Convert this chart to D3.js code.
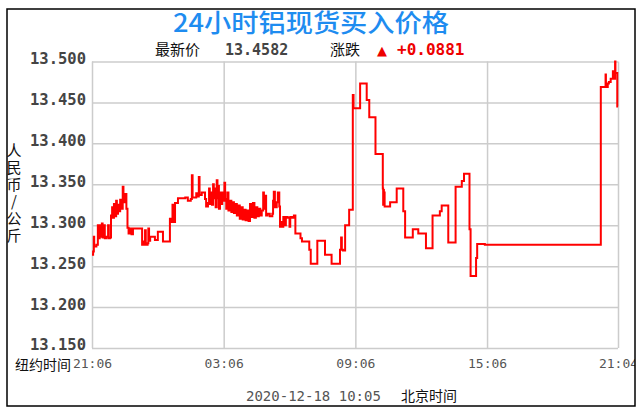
<!DOCTYPE html>
<html>
<head>
<meta charset="utf-8">
<script src="https://cdn.jsdelivr.net/npm/d3@7"></script>
<style>
  html, body { margin: 0; padding: 0; background: #fff; }
  svg { display: block; }
</style>
</head>
<body>
<div id="chart"></div>
<script>
// 数据: 分钟偏移 (从 21:06 起) 与 价格
const minutes = [
  0, 3, 5, 6, 12, 16, 18, 21, 23, 27, 29, 33, 35, 40, 44, 46, 49, 52, 55, 57,
  60, 63, 66, 68, 71, 74, 77, 80, 84, 86, 89, 91, 94, 97, 100, 104, 108, 112, 137, 142,
  145, 147, 152, 154, 156, 159, 172, 180, 194, 213, 217, 220, 222, 227, 235, 255, 262, 270, 273, 275,
  285, 290, 292, 294, 300, 309, 312, 317, 320, 322, 326, 328, 331, 333, 336, 338, 341, 343, 345, 347,
  350, 352, 356, 359, 362, 364, 367, 370, 373, 377, 381, 384, 388, 392, 396, 400, 404, 408, 412, 416,
  420, 424, 428, 432, 436, 440, 444, 448, 452, 456, 460, 464, 468, 470, 473, 476, 480, 486, 493, 495,
  497, 500, 505, 508, 512, 514, 517, 520, 523, 527, 530, 535, 540, 542, 547, 552, 556, 570, 574, 594,
  598, 616, 637, 655, 678, 681, 683, 686, 692, 703, 713, 715, 733, 751, 758, 775, 795, 796, 797, 798,
  799, 800, 815, 833, 851, 856, 877, 892, 913, 931, 951, 956, 974, 994, 1011, 1017, 1032, 1035, 1050, 1053,
  1074, 1391, 1404, 1405, 1410, 1413, 1418, 1424, 1426, 1430, 1431, 1436, 1438
];
const prices = [
  13.264, 13.268, 13.286, 13.274, 13.276, 13.300, 13.284, 13.300, 13.286, 13.302, 13.285, 13.300, 13.284, 13.286, 13.300, 13.284, 13.285, 13.312, 13.322, 13.309,
  13.326, 13.311, 13.330, 13.314, 13.325, 13.317, 13.331, 13.320, 13.347, 13.335, 13.328, 13.338, 13.320, 13.297, 13.290, 13.296, 13.289, 13.296, 13.276, 13.280,
  13.294, 13.276, 13.278, 13.296, 13.281, 13.286, 13.282, 13.292, 13.280, 13.308, 13.304, 13.325, 13.304, 13.327, 13.333, 13.334, 13.330, 13.332, 13.361, 13.334,
  13.339, 13.335, 13.359, 13.337, 13.340, 13.332, 13.323, 13.327, 13.345, 13.326, 13.340, 13.325, 13.350, 13.333, 13.345, 13.322, 13.355, 13.333, 13.348, 13.320,
  13.340, 13.326, 13.340, 13.330, 13.352, 13.332, 13.320, 13.340, 13.318, 13.330, 13.316, 13.328, 13.315, 13.326, 13.312, 13.324, 13.308, 13.322, 13.307, 13.319,
  13.306, 13.318, 13.305, 13.326, 13.310, 13.327, 13.309, 13.322, 13.311, 13.320, 13.312, 13.318, 13.340, 13.320, 13.336, 13.312, 13.314, 13.311, 13.314, 13.330,
  13.341, 13.322, 13.328, 13.340, 13.323, 13.298, 13.304, 13.298, 13.310, 13.300, 13.310, 13.309, 13.298, 13.310, 13.309, 13.312, 13.290, 13.284, 13.280, 13.270,
  13.253, 13.281, 13.264, 13.253, 13.270, 13.285, 13.270, 13.269, 13.300, 13.319, 13.459, 13.443, 13.473, 13.453, 13.432, 13.387, 13.345, 13.325, 13.343, 13.325,
  13.340, 13.323, 13.328, 13.345, 13.317, 13.285, 13.295, 13.290, 13.272, 13.312, 13.317, 13.324, 13.279, 13.347, 13.354, 13.363, 13.295, 13.238, 13.260, 13.277,
  13.276, 13.469, 13.484, 13.469, 13.473, 13.475, 13.479, 13.488, 13.479, 13.500, 13.486, 13.445, 13.445
];

const yTicks = [13.150, 13.200, 13.250, 13.300, 13.350, 13.400, 13.450, 13.500];
const xTicks = [0, 360, 720, 1080, 1438];
const xTickLabels = ['21:06', '03:06', '09:06', '15:06', '21:04'];

const width = 639, height = 412;
const margin = {top: 61.5, right: 21, bottom: 64, left: 92};

const svg = d3.select('#chart').append('svg')
  .attr('width', width)
  .attr('height', height);

svg.append('clipPath').attr('id', 'frame')
  .append('rect').attr('x', 7).attr('y', 9).attr('width', 628).attr('height', 397);

const g = svg.append('g').attr('clip-path', 'url(#frame)');

const x = d3.scaleLinear().domain([0, 1438]).range([margin.left, width - margin.right]);
const y = d3.scaleLinear().domain([13.15, 13.5]).range([height - margin.bottom, margin.top]);

// 网格
const gridColor = '#cccccc';
g.append('g')
  .attr('transform', `translate(${margin.left},0)`)
  .call(d3.axisLeft(y).tickValues(yTicks).tickSize(-(x.range()[1] - margin.left)).tickFormat(''))
  .call(a => a.select('.domain').remove())
  .selectAll('line').attr('stroke', gridColor).attr('stroke-width', 1.5);

g.append('g')
  .attr('transform', `translate(0,${margin.top})`)
  .call(d3.axisTop(x).tickValues(xTicks).tickSize(-(y.range()[0] - margin.top)).tickFormat(''))
  .call(a => a.select('.domain').remove())
  .selectAll('line').attr('stroke', gridColor).attr('stroke-width', 1.5);

// 价格线
const data = minutes.map((m, i) => ({m, p: prices[i]}));
g.append('path')
  .datum(data)
  .attr('fill', 'none')
  .attr('stroke', '#ff0000')
  .attr('stroke-width', 2)
  .attr('d', d3.line().curve(d3.curveStepAfter).x(d => x(d.m)).y(d => y(d.p)));

// Y 轴标签
const yAxis = g.append('g')
  .attr('transform', `translate(${margin.left},-3)`)
  .call(d3.axisLeft(y).tickValues(yTicks).tickSize(0).tickPadding(6).tickFormat(d3.format('.3f')));
yAxis.select('.domain').remove();
yAxis.selectAll('text')
  .attr('fill', '#444')
  .style('font-family', '"DejaVu Sans Mono", monospace')
  .style('font-weight', 'bold')
  .style('font-size', '15.5px');

// X 轴标签
const xAxis = g.append('g')
  .attr('transform', `translate(0,${y.range()[0]})`)
  .call(d3.axisBottom(x).tickValues(xTicks).tickSize(0).tickPadding(11).tickFormat((d, i) => xTickLabels[i]));
xAxis.select('.domain').remove();
xAxis.selectAll('text')
  .attr('fill', '#555')
  .style('font-family', '"DejaVu Sans Mono", monospace')
  .style('font-size', '13px');

g.append('text')
  .attr('x', 71).attr('y', 370)
  .attr('text-anchor', 'end')
  .style('font-family', '"Noto Sans CJK SC", sans-serif')
  .style('font-size', '14px')
  .attr('fill', '#111')
  .text('纽约时间');

// 纵向单位
g.append('text')
  .attr('x', 14).attr('y', 143)
  .style('writing-mode', 'vertical-rl')
  .style('text-orientation', 'upright')
  .style('letter-spacing', '2px')
  .style('font-family', '"Noto Sans CJK SC", sans-serif')
  .style('font-size', '15px')
  .attr('fill', '#111')
  .text('人民币/公斤');

// 标题
g.append('text')
  .attr('x', 311).attr('y', 32)
  .attr('text-anchor', 'middle')
  .attr('textLength', 276)
  .attr('lengthAdjust', 'spacingAndGlyphs')
  .style('font-family', '"Noto Sans CJK SC", sans-serif')
  .style('font-size', '25px')
  .style('font-weight', '500')
  .attr('fill', '#1e8cf0')
  .text('24小时铝现货买入价格');

const info = g.append('text')
  .attr('y', 55)
  .style('font-size', '15px');
info.append('tspan').attr('x', 155)
  .style('font-family', '"Noto Sans CJK SC", sans-serif').attr('fill', '#111').text('最新价');
info.append('tspan').attr('x', 225)
  .style('font-family', '"DejaVu Sans Mono", monospace').style('font-weight', 'bold').attr('fill', '#444').text('13.4582');
info.append('tspan').attr('x', 330)
  .style('font-family', '"Noto Sans CJK SC", sans-serif').attr('fill', '#111').text('涨跌');
info.append('tspan').attr('x', 377)
  .style('font-family', '"DejaVu Sans", sans-serif').style('font-size', '13px').attr('fill', '#ee0000').text('▲');
info.append('tspan').attr('x', 397)
  .style('font-family', '"DejaVu Sans Mono", monospace').style('font-weight', 'bold').style('font-size', '16px').attr('fill', '#ee0000').text('+0.0881');

// 底部时间
const foot = g.append('text').attr('y', 401).style('font-size', '14px');
foot.append('tspan').attr('x', 246)
  .style('font-family', '"DejaVu Sans Mono", monospace').attr('fill', '#555').text('2020-12-18 10:05');
foot.append('tspan').attr('x', 401)
  .style('font-family', '"Noto Sans CJK SC", sans-serif').attr('fill', '#111').text('北京时间');

// 外框
svg.append('rect')
  .attr('x', 7).attr('y', 9).attr('width', 628).attr('height', 397)
  .attr('fill', 'none').attr('stroke', '#000').attr('stroke-width', 1.5);
</script>
</body>
</html>
